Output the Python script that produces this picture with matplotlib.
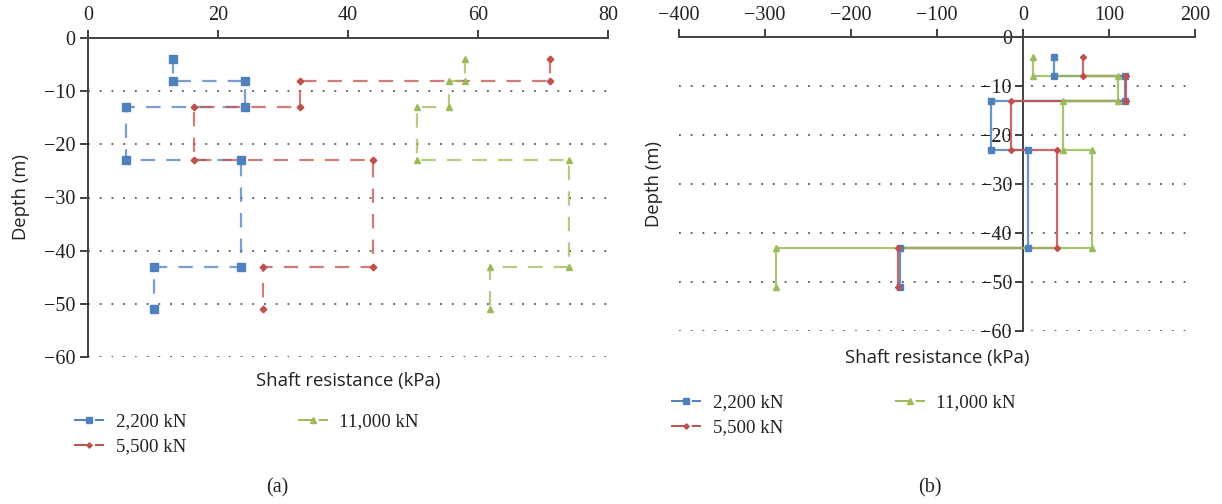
import matplotlib
matplotlib.use("Agg")
import matplotlib.pyplot as plt
from matplotlib.lines import Line2D

# Depth breakpoints shared by all load levels (m)
depth = [-4, -8, -8, -13, -13, -23, -23, -43, -43, -51]

# (a) shaft resistance profiles (kPa)
a_2200 = [13.1, 13.1, 24.2, 24.2, 5.9, 5.9, 23.6, 23.6, 10.2, 10.2]
a_5500 = [71.1, 71.1, 32.6, 32.6, 16.3, 16.3, 43.9, 43.9, 26.9, 26.9]
a_11000 = [58.0, 58.0, 55.5, 55.5, 50.6, 50.6, 74.0, 74.0, 61.8, 61.8]

# (b) shaft resistance profiles (kPa)
b_2200 = [35.7, 35.7, 118.6, 118.6, -37.2, -37.2, 5.8, 5.8, -143.4, -143.4]
b_5500 = [70.2, 70.2, 119.5, 119.5, -14.3, -14.3, 39.1, 39.1, -145.3, -145.3]
b_11000 = [12.0, 12.0, 110.5, 110.5, 46.9, 46.9, 80.6, 80.6, -287.6, -287.6]

labels = ["2,200 kN", "5,500 kN", "11,000 kN"]
colors = ["#4F81BD", "#C0504D", "#9BBB59"]
markers = ["s", "D", "^"]
msizes = [5.3, 3.4, 4.6]

a_ticks_x = [0, 20, 40, 60, 80]
b_ticks_x = [-400, -300, -200, -100, 0, 100, 200]
y_ticks = [0, -10, -20, -30, -40, -50, -60]

SERIF = ["Liberation Serif", "DejaVu Serif"]
SANS = ["Open Sans", "DejaVu Sans"]
plt.rcParams["font.family"] = SERIF
AXC = "#404040"
TXT = "#222222"
DASH = (0, (6.5, 5.0))


def fmt(v):
    return ("\u2212%d" % -v) if v < 0 else "%d" % v


fig = plt.figure(figsize=(12.22, 5.04), dpi=100)
ax_a = fig.add_axes([88 / 1222, 1 - 357 / 504, 520 / 1222, 319 / 504])
ax_b = fig.add_axes([679 / 1222, 1 - 331.3 / 504, 516 / 1222, 294 / 504])


def style_axes(ax, xlim, xticks):
    ax.set_xlim(*xlim)
    ax.set_ylim(-60, 0)
    ax.xaxis.tick_top()
    ax.set_xticks(xticks, [fmt(t) for t in xticks], fontfamily=SERIF)
    ax.set_yticks(y_ticks, [fmt(t) for t in y_ticks], fontfamily=SERIF)
    for s in ("right", "bottom"):
        ax.spines[s].set_visible(False)
    for s in ("top", "left"):
        ax.spines[s].set_color(AXC)
        ax.spines[s].set_linewidth(1.4)
    ax.tick_params(axis="both", direction="out", length=6, width=1.4, color=AXC,
                   labelcolor=TXT, labelsize=14.5, pad=3)
    for t in y_ticks[1:]:
        ax.axhline(t, color="#555555", lw=1.3, ls=(0, (1, 5.5)), zorder=0)
    ax.set_facecolor("none")


style_axes(ax_a, (0, 80), a_ticks_x)
style_axes(ax_b, (-400, 200), b_ticks_x)
ax_b.spines["left"].set_position(("data", 0))
ax_b.tick_params(axis="y", pad=2)

for xs, c, m, ms in zip([a_2200, a_5500, a_11000], colors, markers, msizes):
    ax_a.plot(xs, depth, color=c, lw=1.6, ls=DASH, alpha=0.75, zorder=3)
    ax_a.plot(xs, depth, color=c, ls="none", marker=m, ms=ms, mec=c, mfc=c, zorder=4)

for xs, c, m, ms in zip([b_2200, b_5500, b_11000], colors, markers, msizes):
    ax_b.plot(xs, depth, color=c, lw=1.6, ls="-", alpha=0.85, zorder=3)
    ax_b.plot(xs, depth, color=c, ls="none", marker=m, ms=ms * 0.9, mec=c, mfc=c, zorder=4)

ax_a.set_xlabel("Shaft resistance (kPa)", family=SANS, fontsize=13.3, color=TXT)
ax_a.xaxis.set_label_position("bottom")
ax_a.xaxis.labelpad = 11
ax_a.set_ylabel("Depth (m)", family=SANS, fontsize=13.3, color=TXT)
ax_a.yaxis.set_label_coords(-0.112, 0.5)

ax_b.set_xlabel("Shaft resistance (kPa)", family=SANS, fontsize=13.3, color=TXT)
ax_b.xaxis.set_label_position("bottom")
ax_b.xaxis.labelpad = 13
ax_b.set_ylabel("Depth (m)", family=SANS, fontsize=13.3, color=TXT)
ax_b.yaxis.set_label_coords(-0.031, 0.5)

handles = [Line2D([], [], color=c, lw=1.4, ls=(0, (8.5, 2.2)), marker=m, ms=ms * 0.8,
                  mec=c, mfc=c) for c, m, ms in zip(colors, markers, msizes)]

leg_kw = dict(ncol=2, frameon=False, handlelength=1.6, handletextpad=0.6,
              labelspacing=0.42, borderaxespad=0, borderpad=0,
              prop={"family": SERIF, "size": 13.6}, labelcolor=TXT)
fig.legend(handles, labels, loc="upper left", bbox_to_anchor=(74 / 1222, 1 - 413 / 504),
           columnspacing=5.9, **leg_kw)
fig.legend(handles, labels, loc="upper left", bbox_to_anchor=(671 / 1222, 1 - 394 / 504),
           columnspacing=5.9, **leg_kw)

fig.text(277 / 1222, 1 - 488 / 504, "(a)", family=SERIF, fontsize=14.5, color=TXT,
         ha="center", va="center")
fig.text(930 / 1222, 1 - 488 / 504, "(b)", family=SERIF, fontsize=14.5, color=TXT,
         ha="center", va="center")

fig.savefig("out.png", dpi=100)
